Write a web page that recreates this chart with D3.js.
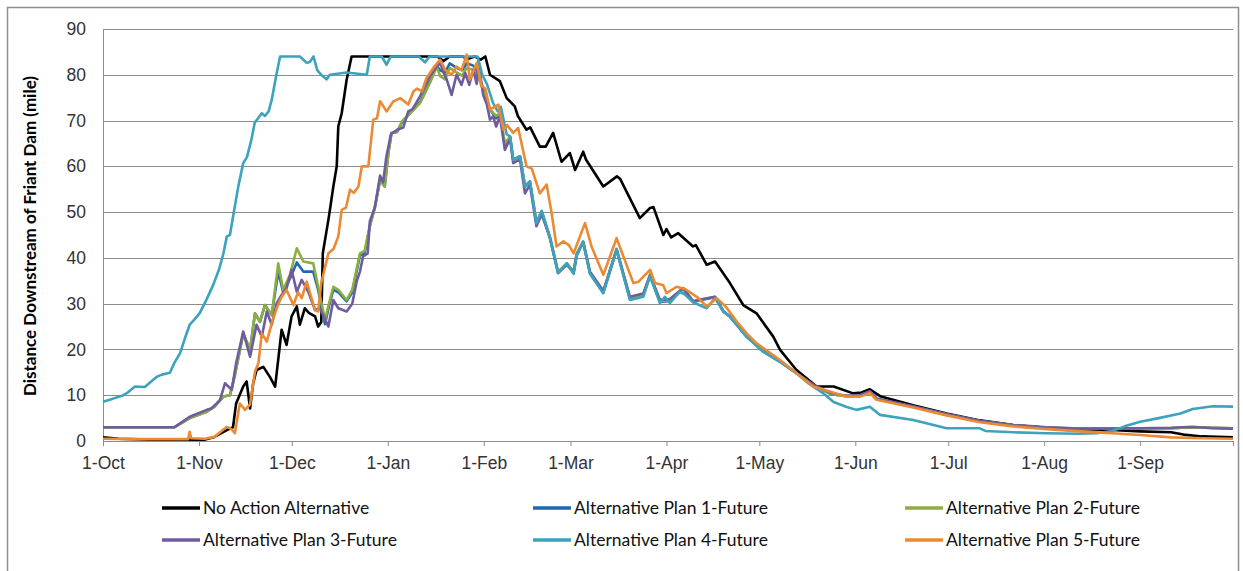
<!DOCTYPE html>
<html>
<head>
<meta charset="utf-8">
<script src="https://cdn.jsdelivr.net/npm/d3@7"></script>
<style>
  body { margin: 0; background: #fff; }
  svg { font-family: "Lato", "Open Sans", sans-serif; }
</style>
</head>
<body>
<div id="chart"></div>
<script>
var svgWidth = 1243;
var svgHeight = 571;

var margin = { top: 29, right: 10, bottom: 130, left: 103 };
var width = 1233 - margin.left;
var height = 441 - margin.top;

// month starts (days since 1-Oct) and their labels
var monthDays = [0, 31, 61, 92, 123, 151, 182, 212, 243, 273, 304, 335];
var monthLabels = ["1-Oct", "1-Nov", "1-Dec", "1-Jan", "1-Feb", "1-Mar", "1-Apr", "1-May", "1-Jun", "1-Jul", "1-Aug", "1-Sep"];
var yTicks = [0, 10, 20, 30, 40, 50, 60, 70, 80, 90];

var seriesNames = ["No Action Alternative", "Alternative Plan 1-Future", "Alternative Plan 2-Future",
  "Alternative Plan 3-Future", "Alternative Plan 4-Future", "Alternative Plan 5-Future"];
var seriesColors = ["#000000", "#1f69b3", "#8cae3e", "#6f5c9e", "#3ba3bd", "#ec8a33"];

// [day since 1-Oct, miles downstream]
var noAction = [[0,0.8],[5,0.5],[15,0.3],[25,0.3],[33,0.3],[36,0.9],[40,2.4],[42,3.0],[43,8.2],[45.3,11.9],[46.4,13],[47.5,7.1],[48.5,12.6],[49.6,15.5],[51.8,16.2],[53.9,14],[55.6,11.9],[57.7,24.3],[59.3,21],[60.9,27.2],[62.6,29.4],[63.6,25.4],[65.2,29],[66.5,28],[68.5,27.2],[69.5,25],[70.5,26],[71,41],[72.8,48.3],[73.3,50.5],[74.4,55.6],[75.5,60],[76,68.7],[77.1,71.6],[78.7,78.9],[80.3,84],[92,84],[100,84],[108,84],[110,83],[112,84],[116,84],[118,83.5],[120,84],[122,83.3],[123.5,84],[125,80],[128.2,78.6],[130.4,74.9],[133,73.1],[134,71],[136.8,68],[138,68.5],[141.1,64.3],[143,64.3],[145.4,67.3],[148.1,61],[150.8,62.9],[152.5,59.2],[155.1,63.2],[156,61.5],[161.6,55.6],[166,57.8],[167,57.3],[173.4,48.7],[176.7,50.9],[177.8,51.1],[181,45],[182,46.3],[183.5,44.5],[185.8,45.4],[190.6,42.5],[191.5,42.8],[195,38.5],[197.7,39.2],[202.5,34.5],[206.8,29.7],[211.1,27.9],[216.5,22.8],[218.7,19.9],[224,15.5],[230.5,11.9],[236,11.9],[242.3,10.4],[245,10.6],[247.7,11.3],[251,9.8],[261.7,7.8],[272.5,6],[283.3,4.5],[294,3.5],[304.8,2.9],[315.6,2.6],[326,2.4],[335,2.1],[345,1.9],[349,1.4],[355,1.0],[365,0.8]];

var plan1 = [[0,3],[10,3],[20,3],[23,3],[28,5],[33.5,6.4],[36,7.5],[38.9,9.7],[41,10],[42.6,14.4],[45.3,23.5],[47.5,19.9],[49.1,27.9],[50.7,26],[52.3,29.7],[54.5,27.5],[56.6,37],[58.2,32.5],[60.4,35.5],[62.6,39],[64.7,37],[67.9,37],[69.5,33],[71.7,25.5],[73,29.5],[74.4,33],[76,32.5],[78.7,30.5],[80.5,32.5],[83,40.5],[84.5,41],[86.2,47],[87.8,51],[89.5,57],[91,55.6],[92.2,63],[93.2,67.3],[95,67.5],[96.5,69.5],[99.2,71.6],[102.4,74],[103.5,75.5],[105.6,78.5],[107.8,82],[108.9,81],[110.5,80.5],[112,82.5],[114.2,81.5],[116,81],[117.5,82.5],[119.6,82],[121,80.5],[122.8,77],[125,72.4],[127,70.5],[128.2,71.6],[129.8,64.5],[131.5,66.5],[132.5,61.4],[134.7,62.2],[136.3,55.6],[137.9,56.7],[140,47.5],[141.7,50.1],[144.4,44.3],[147,36.7],[149.8,38.8],[152,36.8],[153,40.8],[155.1,43.5],[157.3,36.7],[161.6,32.4],[165.9,41.8],[170.2,31],[174.5,31.7],[176.7,36.2],[179.9,30.4],[183.1,30.6],[187.4,33.2],[190.6,30.4],[194,30.9],[197.7,31.4],[200.4,28.3],[202.5,27.2],[207.9,22.8],[213.3,19.5],[218.7,17.3],[224,14.8],[229.4,12.2],[235,10.3],[240,9.8],[244.5,9.9],[247.7,10.8],[249.9,9.1],[261.7,7.5],[272.5,5.8],[283.3,4.3],[294,3.4],[304.8,2.9],[315.6,2.7],[326,2.7],[335,2.8],[345,2.8],[352,3],[365,2.8]];

var plan2 = [[0,3],[10,3],[20,3],[23,3],[28,5],[33.5,6.4],[36,7.5],[38.9,9.7],[41,10],[42.6,14.4],[45.3,23.5],[47.5,19.9],[49.1,27.9],[50.7,26],[52.3,29.7],[54.5,27.5],[56.6,38.8],[58.2,33],[60.4,36.3],[62.6,42.1],[64.7,39.2],[67.9,38.8],[69.5,33.7],[71.7,26.5],[73,30],[74.4,33.7],[76,33],[78.7,30.8],[80.5,33],[83,41],[84.5,41.5],[86.2,47],[87.8,51],[89.5,57],[91,55.6],[92.2,63],[93.2,67.3],[95,67.5],[96.5,69.8],[99.2,71.6],[102.4,73.8],[103.5,75.3],[105.6,78.2],[107.8,81.8],[108.9,79.7],[110.5,79],[112,81.5],[114.2,80.5],[116,79.8],[117.5,81.5],[119.6,81.1],[121,80],[122.8,76.5],[125,72.4],[127,71],[128.2,71.6],[129.8,65],[131.5,66.5],[132.5,61.4],[134.7,62.2],[136.3,55.6],[137.9,56.7],[140,48],[141.7,50.1],[144.4,44.5],[147,37],[149.8,38.8],[152,37],[153,41],[155.1,43.5],[157.3,36.7],[161.6,32.6],[165.9,42],[170.2,31.2],[174.5,31.9],[176.7,36.3],[179.9,30.5],[183.1,30.8],[187.4,33.4],[190.6,30.5],[194,31],[197.7,31.5],[200.4,28.3],[202.5,27.2],[207.9,22.8],[213.3,19.5],[218.7,17.3],[224,14.8],[229.4,12.2],[235,10.3],[240,9.8],[244.5,9.9],[247.7,10.8],[249.9,9.1],[261.7,7.5],[272.5,5.8],[283.3,4.3],[294,3.4],[304.8,2.9],[315.6,2.7],[326,2.7],[335,2.8],[345,2.8],[352,3],[365,2.8]];

var plan3 = [[0,3],[10,3],[20,3],[23,3],[28,5.3],[33.5,6.8],[35,7.1],[36.7,8.2],[37.8,9],[39.4,12.6],[41.6,11.2],[43,17],[45.3,23.9],[47.5,18.4],[49.6,25.4],[51.3,22.8],[52.9,28.3],[54.5,25.4],[56.1,30.1],[57.7,31.9],[59.3,33.4],[60.9,37.4],[62.6,32.6],[64.2,35.2],[66.3,32.6],[68.5,28.6],[70,29],[71.5,27],[72.8,25],[74.4,30.8],[76,29],[78.7,28.3],[80.5,30],[82,35],[83,37],[84,40.3],[85.5,41],[86.2,48],[87.8,51],[89.5,58],[90.5,56.5],[91.5,62],[93,67],[95,68],[97,68.5],[98.6,72],[100,72.5],[102.4,75.3],[105.6,79.7],[107.8,81.8],[108.9,82.6],[110,80.5],[111,79],[112.6,75.6],[114.2,80],[115.8,77.8],[117,80.4],[118.3,77.8],[119.6,81.1],[120.7,78],[121.2,83],[122.8,75.6],[124,73.5],[125,70.2],[126,70.9],[127,68.7],[128.2,71],[129.8,63.6],[131.5,66],[132.5,60.7],[134.7,61.5],[136.3,54.1],[137.9,56],[140,46.9],[141.7,49.5],[144.4,44.3],[147,36.7],[149.8,38.5],[152,36.8],[153,40.5],[155.1,43.5],[157.3,37],[161.6,32.8],[165.9,41.8],[170.2,31.5],[174.5,32.2],[176.7,36.3],[179.9,30.8],[183.1,31],[187.4,33.4],[190.6,30.5],[194,31],[197.7,31.5],[200.4,28.3],[202.5,27.2],[207.9,22.8],[213.3,19.8],[218.7,17.5],[224,14.8],[229.4,12.3],[235,10.5],[240,9.9],[244.5,10],[247.7,10.9],[249.9,9.3],[261.7,7.6],[272.5,5.9],[283.3,4.4],[294,3.5],[304.8,3],[315.6,2.7],[326,2.7],[335,2.8],[345,2.9],[352,3.1],[358,2.8],[365,2.7]];

var plan4 = [[0,8.6],[3,9.2],[6.6,10],[8,10.6],[10.3,11.9],[13.5,11.8],[17.3,14],[19,14.5],[21.6,14.9],[23,17],[24.9,19.2],[26.5,22.5],[28,25.4],[29.5,26.5],[31.3,28],[33.5,31],[35.6,34.1],[37.5,37.5],[38.9,41],[40,44.7],[41,45],[42,49],[43.7,55.6],[45.3,60.7],[46.5,62],[48,66],[49,69.5],[51.3,71.6],[52.3,71],[53.5,72],[54.5,74.5],[56,80],[57.2,84],[63.6,84],[65.8,82.6],[66.8,82.8],[68,84],[69.2,81],[70.5,80],[72.2,79],[73.3,80],[78.7,80.5],[85.2,80],[86.2,84],[90,84],[91.6,82.2],[93,84],[102,84],[104,82.7],[105.5,84],[121,84],[122.5,80],[124,78],[126,73.8],[127.5,72],[128.5,73],[130.4,67],[131.5,66.5],[132.5,61.4],[134.7,62.2],[136.3,55.6],[137.9,56.7],[140,47.5],[141.7,50.3],[144.4,44.3],[147,36.7],[149.8,38.8],[152,36.5],[153,40.5],[155.1,43.5],[157.3,36.5],[161.6,32.3],[165.9,41.8],[170.2,30.8],[174.5,31.5],[176.7,36],[179.9,30.1],[181.5,31.5],[183.1,30.1],[186.3,32.6],[188,32],[190.6,30.3],[195,29],[197.7,31.2],[200.4,28.3],[202.5,27.2],[207.9,22.8],[213.3,19.5],[218.7,17.3],[224,14.8],[228,12.5],[232.7,10.4],[236,8.5],[240,7.5],[243.4,6.8],[247.7,7.5],[251,5.7],[261.7,4.6],[272.5,2.8],[283,2.8],[285,2.2],[294,1.9],[304.8,1.7],[315,1.6],[321,1.7],[326,2.2],[330,3.2],[335,4.2],[341,5],[348,6],[352,7],[358.5,7.6],[365,7.5]];

var plan5 = [[0,0.5],[10,0.4],[20,0.4],[27.5,0.4],[28,2],[28.5,0.6],[33,0.5],[36,0.9],[40,3.1],[41.5,2.6],[42.6,1.7],[44.2,8.2],[45.9,6.8],[47.5,8],[49.1,15.2],[50.2,17],[51.3,23.5],[52.9,21.7],[54.5,25.7],[56.1,29],[57.7,31.5],[59.3,33],[61.5,29.7],[63,32.5],[64.2,31.2],[65.8,34.8],[67,32],[68.5,28.6],[69.5,28.3],[70.5,34.5],[72.8,41],[74.5,42],[76,44.7],[77.1,50.5],[78.5,51],[79.8,54.9],[81,54.2],[82.5,55.6],[83.6,60],[85.7,60],[87.3,70.2],[88.5,70.5],[89.5,74.2],[91.6,72],[93.8,74.2],[96,74.9],[98.6,73.5],[100.3,76.4],[101.5,77],[103,76.4],[104.5,79.3],[106.7,81.5],[108.9,83.3],[110.5,81.1],[112.6,80],[114.2,81.8],[115.8,81],[117.5,84.4],[118.5,78.9],[120.7,82.6],[122.3,77.5],[123.5,77],[125,72.4],[127.7,73.5],[129.3,68],[130.5,69],[132.5,67.3],[134.1,68.4],[136.8,60],[138.5,59.5],[141.1,54.1],[143.3,56],[144.9,49.8],[146.5,42.5],[148.7,43.6],[150.5,42.8],[152,41],[155.7,47.6],[157.8,42.5],[161.6,36.3],[165.9,44.3],[171.3,34.5],[173,34.8],[176.7,37.4],[178.3,34.5],[181,34],[182,32.3],[185.3,33.7],[188,33.2],[191.8,31.5],[195,29.4],[198.2,31.2],[201,29.5],[204.7,26.1],[207.9,23.5],[211,21.4],[218.7,17.7],[229.4,11.9],[240,9.7],[244.5,9.7],[247.7,10.5],[249.9,9],[261.7,7.3],[272.5,5.6],[283.3,4.1],[294,3.2],[304.8,2.6],[315.6,2.1],[326,1.7],[335,1.3],[345,0.8],[355,0.6],[365,0.5]];

var seriesData = [noAction, plan1, plan2, plan3, plan4, plan5];

var svg = d3.select("#chart")
  .append("svg")
  .attr("width", svgWidth)
  .attr("height", svgHeight);

// outer chart border
svg.append("rect")
  .attr("x", 7.5)
  .attr("y", 7.5)
  .attr("width", 1231)
  .attr("height", 600)
  .attr("fill", "none")
  .attr("stroke", "#8f8f8f")
  .attr("stroke-width", 1.5);

var chartGroup = svg.append("g")
  .attr("transform", `translate(${margin.left}, ${margin.top})`);

var xScale = d3.scaleLinear().domain([0, 365]).range([0, width]);
var yScale = d3.scaleLinear().domain([0, 90]).range([height, 0]);

// horizontal gridlines
chartGroup.selectAll(".grid")
  .data(yTicks)
  .enter()
  .append("line")
  .attr("x1", 0)
  .attr("x2", width)
  .attr("y1", d => Math.round(yScale(d)) + 0.5)
  .attr("y2", d => Math.round(yScale(d)) + 0.5)
  .attr("stroke", "#8c8c8c")
  .attr("stroke-width", 1);

// y axis
var leftAxis = d3.axisLeft(yScale).tickValues(yTicks).tickSize(0).tickPadding(17);
var yAxis = chartGroup.append("g").call(leftAxis);
yAxis.select(".domain").attr("stroke", "#8c8c8c");
yAxis.selectAll("text")
  .style("font-size", "17.5px")
  .style("fill", "#333");

// x axis
var bottomAxis = d3.axisBottom(xScale)
  .tickValues(monthDays.concat([365]))
  .tickFormat((d, i) => monthLabels[i] || "")
  .tickSize(5)
  .tickSizeOuter(0)
  .tickPadding(11);
var xAxis = chartGroup.append("g")
  .attr("transform", `translate(0, ${height})`)
  .call(bottomAxis);
xAxis.select(".domain").attr("stroke", "#8c8c8c");
xAxis.selectAll("line").attr("stroke", "#8c8c8c");
xAxis.selectAll("text")
  .style("font-size", "17.5px")
  .style("fill", "#333");

// y axis title
svg.append("text")
  .attr("transform", "rotate(-90)")
  .attr("x", -236)
  .attr("y", 36)
  .attr("text-anchor", "middle")
  .style("font-size", "17px")
  .style("font-weight", "bold")
  .style("fill", "#000")
  .text("Distance Downstream of Friant Dam (mile)");

// lines
var line = d3.line()
  .x(d => xScale(d[0]))
  .y(d => yScale(d[1]));

chartGroup.selectAll(".series")
  .data(seriesData)
  .enter()
  .append("path")
  .attr("d", line)
  .attr("fill", "none")
  .attr("stroke", (d, i) => seriesColors[i])
  .attr("stroke-width", 2.6)
  .attr("stroke-linejoin", "round");

// legend: 3 columns x 2 rows
var legendX = [162, 533, 905];
var legendY = [508, 540];
var legend = svg.selectAll(".legend")
  .data(seriesNames)
  .enter()
  .append("g")
  .attr("transform", (d, i) => `translate(${legendX[i % 3]}, ${legendY[Math.floor(i / 3)]})`);

legend.append("line")
  .attr("x1", 0)
  .attr("x2", 38)
  .attr("stroke", (d, i) => seriesColors[i])
  .attr("stroke-width", 3.5);

legend.append("text")
  .attr("x", 41)
  .attr("dy", "0.35em")
  .style("font-size", "17.5px")
  .style("fill", "#111")
  .text(d => d);
</script>
</body>
</html>
